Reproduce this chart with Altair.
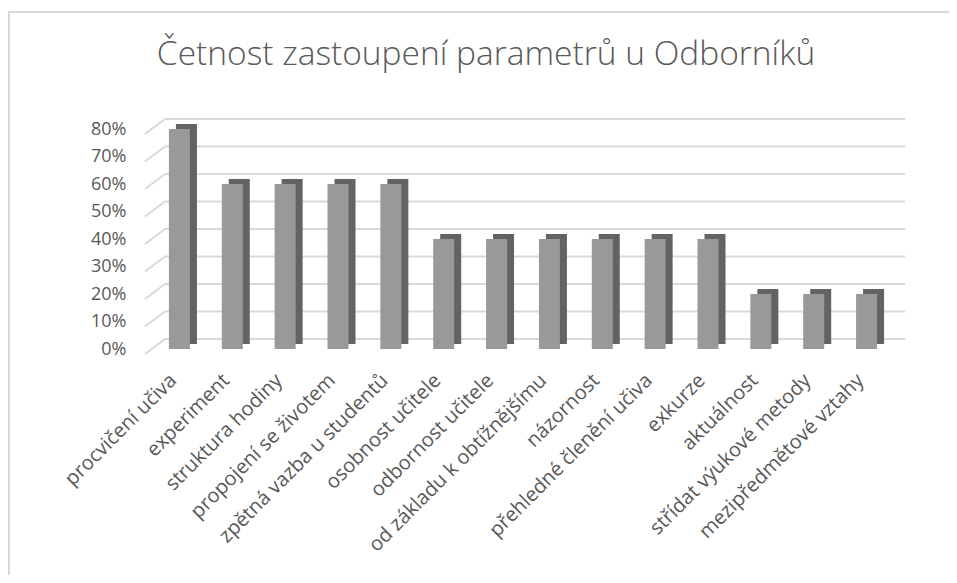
import altair as alt
import pandas as pd

categories = [
    "procvičení učiva", "experiment", "struktura hodiny", "propojení se životem",
    "zpětná vazba u studentů", "osobnost učitele", "odbornost učitele",
    "od základu k obtížnějšímu", "názornost", "přehledné členění učiva",
    "exkurze", "aktuálnost", "střídat výukové metody", "mezipředmětové vztahy",
]
values = [0.80, 0.60, 0.60, 0.60, 0.60, 0.40, 0.40, 0.40, 0.40, 0.40, 0.40, 0.20, 0.20, 0.20]
y_ticks = [0.0, 0.1, 0.2, 0.3, 0.4, 0.5, 0.6, 0.7, 0.8]

TITLE = "Četnost zastoupení parametrů u Odborníků"
FONT = "Open Sans"
TEXT = "#595959"
W, H = 740, 220

df = pd.DataFrame({"cat": categories, "val": values})
grid_df = pd.DataFrame({"v": y_ticks})

yscale = alt.Scale(domain=[0, 0.8], nice=False)
yaxis = alt.Axis(format=".0%", values=y_ticks, grid=False, domain=False, ticks=False,
                 labelFont=FONT, labelFontSize=18, labelColor=TEXT, labelPadding=27)
xenc = alt.X("cat:N", sort=None, title=None,
             axis=alt.Axis(labelAngle=-45, labelAlign="right", labelBaseline="middle",
                           labelFont=FONT, labelFontSize=20, labelColor=TEXT,
                           labelPadding=28, labelOffset=-6, domain=False, ticks=False,
                           labelOverlap=False, labelLimit=400))

grid = alt.Chart(grid_df).mark_rule(color="#d9d9d9", strokeWidth=2, yOffset=-10).encode(
    y=alt.Y("v:Q", scale=yscale, title=None, axis=yaxis),
    x=alt.value(12), x2=alt.value(W + 12),
)
slant = alt.Chart(grid_df).mark_rule(color="#d9d9d9", strokeWidth=2, yOffset=5, y2Offset=-10).encode(
    y=alt.Y("v:Q", scale=yscale, title=None, axis=yaxis),
    y2=alt.Y2("v:Q"),
    x=alt.value(-8), x2=alt.value(12),
)

side = alt.Chart(df).mark_bar(color="#636363", size=21, xOffset=7, yOffset=-5).encode(
    x=xenc,
    y=alt.Y("val:Q", scale=yscale, title=None, axis=yaxis),
)
front = alt.Chart(df).mark_bar(color="#999999", size=21).encode(
    x=xenc,
    y=alt.Y("val:Q", scale=yscale, title=None, axis=yaxis),
)

title = alt.Chart(grid_df.head(1)).mark_text(
    font=FONT, fontSize=33.5, fontWeight=300, color=TEXT, align="center", baseline="middle"
).encode(x=alt.value(486 - 153), y=alt.value(55 - 129), text=alt.value(TITLE))

border_top = alt.Chart(grid_df.head(1)).mark_rect(color="#d9d9d9", strokeWidth=0).encode(
    x=alt.value(-145), x2=alt.value(W + 60), y=alt.value(-118), y2=alt.value(-116),
)
border_left = alt.Chart(grid_df.head(1)).mark_rect(color="#d9d9d9", strokeWidth=0).encode(
    x=alt.value(-145), x2=alt.value(-143), y=alt.value(-118), y2=alt.value(H + 226),
)

chart = alt.layer(grid, slant, side, front, title, border_top, border_left).properties(
    width=W, height=H,
    autosize=alt.AutoSizeParams(type="none"),
    padding={"left": 145, "top": 121, "right": 56, "bottom": 226},
).configure_view(stroke=None).resolve_scale(y="shared")

chart.save("out.html", embed_options={"renderer": "svg", "actions": False})
